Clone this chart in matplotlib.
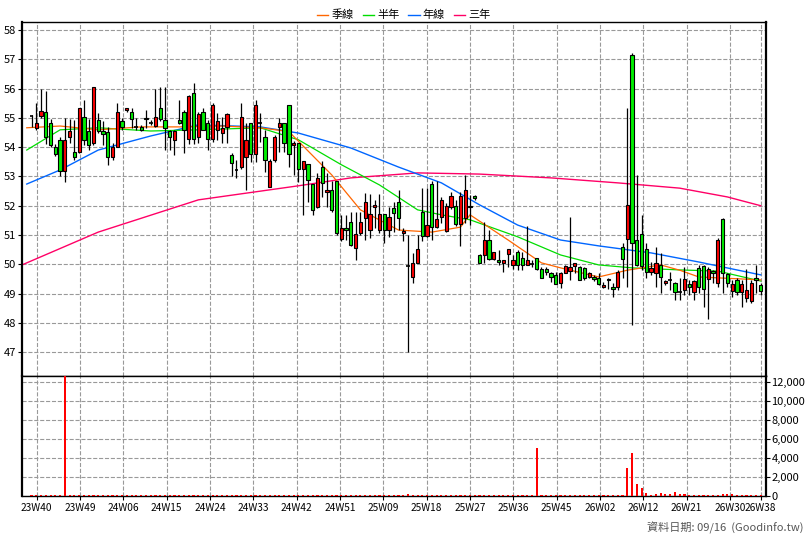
import numpy as np
import matplotlib
matplotlib.use("Agg")
import matplotlib.pyplot as plt
from matplotlib.lines import Line2D
from matplotlib.ticker import FuncFormatter

plt.rcParams['font.family'] = ['Noto Sans CJK TC', 'DejaVu Sans']

# ==========================================
# Weekly OHLC, week index 0..153
# ==========================================
opens = [55.05, 54.66, 55.06, 55.21, 54.81, 54.01, 54.24, 53.20, 54.35, 53.84,
         53.84, 55.02, 54.56, 54.15, 54.92, 54.55, 54.53, 53.67, 54.01, 54.90,
         55.27, 55.21, 54.70, 54.70, 55.00, 54.83, 54.73, 55.32, 54.92, 54.55,
         54.24, 54.92, 55.21, 54.26, 55.84, 54.35, 55.21, 54.81, 54.26, 54.58,
         54.47, 54.67, 53.73, 53.22, 53.33, 53.65, 54.81, 53.76, 54.83, 54.33,
         52.63, 53.56, 54.67, 54.83, 55.44, 54.07, 54.13, 53.25, 53.42, 52.73,
         51.95, 53.31, 52.46, 52.54, 52.83, 50.86, 51.23, 51.44, 50.55, 51.06,
         51.57, 51.17, 51.95, 51.17, 51.71, 51.17, 51.91, 52.12, 51.06, 49.96,
         49.56, 50.06, 51.80, 50.97, 52.73, 51.27, 51.60, 51.15, 51.94, 52.00,
         51.36, 51.57, 52.00, 52.33, 50.32, 50.32, 50.83, 50.17, 50.15, 50.06,
         50.34, 49.99, 50.41, 50.20, 49.99, 50.00, 50.20, 49.83, 49.83, 49.71,
         49.63, 49.37, 49.71, 49.78, 49.94, 49.92, 49.86, 49.58, 49.56, 49.52,
         49.22, 49.50, 49.22, 49.22, 50.60, 50.86, 57.15, 50.83, 51.03, 50.52,
         49.75, 49.69, 49.97, 49.35, 49.45, 49.38, 49.07, 49.13, 49.32, 49.06,
         49.87, 49.95, 49.51, 49.76, 49.35, 51.54, 49.66, 49.10, 49.47, 49.06,
         48.84, 48.74, 49.53, 49.29]
highs = [55.10, 55.50, 56.00, 55.90, 54.95, 54.10, 54.35, 54.98, 54.95, 54.93,
         55.35, 55.60, 54.95, 56.04, 55.15, 54.90, 54.70, 54.15, 55.50, 54.98,
         55.35, 55.32, 54.98, 54.75, 55.25, 54.92, 56.00, 56.06, 56.04, 54.60,
         54.60, 55.60, 55.25, 55.78, 56.18, 55.21, 55.32, 54.92, 55.49, 55.15,
         55.02, 55.15, 53.80, 53.56, 55.49, 54.81, 54.81, 55.61, 55.15, 54.58,
         53.58, 54.41, 54.98, 54.83, 55.44, 54.20, 54.13, 53.51, 53.42, 52.73,
         53.11, 53.51, 53.11, 52.83, 52.83, 51.69, 51.69, 51.80, 51.80, 51.80,
         52.43, 52.40, 52.20, 52.40, 51.71, 51.97, 52.14, 52.54, 51.23, 51.00,
         50.38, 51.00, 52.60, 52.60, 52.83, 52.83, 52.30, 52.10, 52.48, 52.20,
         52.48, 53.05, 52.36, 52.36, 50.35, 51.45, 51.17, 50.43, 50.49, 50.15,
         50.51, 50.32, 50.49, 50.43, 51.31, 50.15, 50.20, 49.92, 49.92, 49.75,
         49.75, 49.75, 49.98, 51.60, 50.03, 49.94, 49.92, 49.75, 49.64, 49.69,
         49.41, 49.55, 49.36, 49.81, 50.72, 55.33, 57.20, 53.05, 51.69, 50.72,
         50.09, 50.60, 50.38, 49.47, 49.75, 49.41, 49.53, 49.92, 49.47, 49.47,
         49.98, 49.98, 49.92, 49.81, 50.89, 51.57, 49.69, 49.47, 49.53, 49.47,
         49.83, 49.47, 49.98, 49.35]
lows = [54.70, 54.60, 55.00, 54.10, 54.00, 53.70, 53.00, 52.82, 54.13, 53.56,
        53.80, 54.07, 53.90, 54.07, 54.47, 54.07, 53.40, 53.56, 54.01, 54.58,
        55.20, 54.64, 54.58, 54.55, 54.64, 54.75, 54.70, 54.90, 53.90, 53.90,
        53.73, 54.80, 53.80, 54.10, 54.10, 54.13, 54.58, 53.90, 54.18, 54.24,
        54.13, 54.13, 53.00, 52.93, 53.27, 52.53, 53.50, 53.50, 54.18, 53.16,
        52.63, 53.50, 53.84, 53.84, 53.31, 53.05, 52.82, 51.69, 52.14, 51.69,
        51.92, 52.31, 51.97, 51.80, 51.00, 50.78, 50.83, 50.61, 50.15, 51.00,
        50.83, 50.89, 51.23, 51.06, 50.72, 50.95, 51.12, 51.17, 50.81, 47.02,
        49.38, 50.04, 50.78, 50.95, 50.83, 51.23, 51.40, 51.10, 51.90, 51.30,
        50.63, 51.40, 51.34, 52.20, 50.03, 50.03, 50.15, 50.15, 49.98, 49.75,
        49.92, 49.83, 49.80, 49.80, 49.98, 49.92, 49.80, 49.52, 49.64, 49.41,
        49.33, 49.18, 49.69, 49.46, 49.69, 49.46, 49.46, 49.52, 49.44, 49.29,
        49.18, 49.15, 48.90, 49.13, 49.53, 49.24, 47.93, 49.93, 49.81, 49.53,
        49.64, 49.24, 49.01, 49.30, 49.13, 48.78, 48.78, 48.96, 48.96, 48.78,
        49.01, 48.56, 48.13, 49.35, 49.22, 49.01, 49.24, 48.90, 48.96, 48.56,
        48.73, 48.67, 49.01, 48.96]
closes = [55.05, 54.81, 55.23, 54.36, 54.07, 53.76, 53.20, 54.24, 54.55, 53.65,
          55.32, 54.24, 54.07, 56.04, 54.56, 54.45, 53.67, 54.01, 55.21, 54.70,
          55.32, 54.95, 54.70, 54.58, 54.95, 54.83, 55.02, 54.95, 54.66, 54.35,
          54.55, 54.83, 54.58, 55.74, 54.26, 55.13, 54.58, 54.26, 55.44, 54.90,
          54.64, 55.13, 53.45, 53.22, 55.02, 54.24, 53.76, 55.44, 54.83, 53.56,
          53.52, 54.33, 54.83, 54.15, 53.76, 54.13, 53.25, 53.51, 52.88, 51.86,
          52.94, 52.77, 52.54, 51.86, 51.06, 51.23, 51.17, 50.66, 51.03, 51.44,
          52.12, 51.71, 52.03, 51.71, 51.17, 51.63, 51.74, 51.57, 51.14, 49.96,
          50.04, 50.52, 50.97, 51.34, 51.27, 51.55, 52.20, 52.00, 52.33, 51.36,
          52.33, 52.54, 51.94, 52.25, 50.06, 50.83, 50.17, 50.41, 50.07, 50.15,
          50.51, 50.15, 49.99, 49.99, 50.15, 50.00, 49.84, 49.55, 49.75, 49.58,
          49.33, 49.71, 49.94, 49.92, 50.03, 49.46, 49.55, 49.71, 49.49, 49.33,
          49.30, 49.45, 49.15, 49.75, 50.17, 52.03, 50.74, 49.98, 49.95, 49.75,
          49.87, 50.03, 49.56, 49.42, 49.45, 49.07, 49.08, 49.51, 49.22, 49.42,
          49.24, 49.16, 49.83, 49.70, 50.83, 49.70, 49.35, 49.32, 49.06, 49.32,
          49.13, 49.38, 49.47, 49.10]
volumes = [60, 60, 60, 60, 60, 70, 60, 12600, 60, 60,
           60, 60, 60, 60, 60, 60, 60, 60, 60, 60,
           60, 60, 60, 60, 60, 60, 60, 60, 60, 60,
           60, 60, 60, 60, 60, 60, 60, 60, 60, 60,
           60, 60, 60, 60, 60, 60, 60, 60, 60, 60,
           60, 60, 60, 60, 60, 60, 60, 60, 60, 60,
           60, 60, 60, 60, 60, 60, 60, 60, 60, 60,
           60, 60, 60, 60, 60, 60, 60, 60, 60, 200,
           60, 60, 60, 60, 60, 60, 60, 60, 60, 60,
           60, 60, 60, 60, 60, 60, 60, 60, 60, 60,
           60, 60, 60, 60, 60, 60, 5100, 60, 60, 60,
           60, 60, 60, 60, 60, 60, 60, 60, 60, 60,
           60, 60, 60, 60, 60, 2900, 4500, 1300, 850, 300,
           100, 200, 300, 200, 250, 400, 200, 200, 80, 80,
           80, 60, 60, 60, 60, 200, 200, 200, 80, 80,
           80, 60, 60, 60]

# moving averages at sample weeks
ma13_x = [-1, 6, 14, 23, 31, 40, 48, 54, 63, 69, 77, 84, 90, 92, 100, 107, 111, 119, 125, 132, 136, 140, 153]
ma13_y = [54.66, 54.72, 54.59, 54.69, 54.69, 54.72, 54.66, 54.53, 53.05, 51.86, 51.17, 51.10, 51.27, 51.69,
          50.83, 50.05, 49.88, 49.57, 49.80, 49.98, 49.80, 49.57, 49.47]
ma26_x = [-1, 6, 14, 25, 35, 48, 56, 65, 73, 81, 86, 92, 102, 111, 119, 126, 136, 144, 153]
ma26_y = [53.90, 54.59, 54.66, 54.55, 54.59, 54.66, 54.25, 53.40, 52.71, 51.86, 51.69, 51.52, 50.94,
          50.32, 49.98, 49.88, 49.81, 49.77, 49.43]
ma52_x = [-1, 6, 14, 25, 35, 48, 56, 67, 77, 86, 94, 102, 111, 119, 130, 140, 153]
ma52_y = [52.74, 53.22, 53.90, 54.38, 54.76, 54.69, 54.48, 53.97, 53.32, 52.78, 52.03, 51.34, 50.83,
          50.63, 50.39, 50.08, 49.64]
ma156_x = [-2, 14, 35, 56, 67, 81, 94, 109, 123, 136, 146, 153]
ma156_y = [49.98, 51.10, 52.20, 52.68, 52.95, 53.12, 53.08, 52.95, 52.78, 52.60, 52.30, 52.00]

week_labels = ['23W40', '23W49', '24W06', '24W15', '24W24', '24W33', '24W42', '24W51', '25W09',
               '25W18', '25W27', '25W36', '25W45', '26W02', '26W12', '26W21', '26W30', '26W38']

# ==========================================
# Figure
# ==========================================
fig = plt.figure(figsize=(8.08, 5.40), dpi=100)
ax = fig.add_axes([0.0272, 0.3037, 0.9208, 0.6556])
axv = fig.add_axes([0.0272, 0.0815, 0.9208, 0.2222], sharex=ax)

x = np.arange(len(opens))
o = np.array(opens); c = np.array(closes)
up = c >= o
body_lo = np.minimum(o, c)
body_h = np.abs(c - o)

ax.vlines(x, lows, highs, color='black', linewidth=0.9, zorder=2)
colors = np.where(up, '#ff0000', '#00ee00')
big = body_h >= 0.03
ax.bar(x[big], body_h[big], bottom=body_lo[big], width=0.68, color=colors[big],
       edgecolor='black', linewidth=0.8, zorder=3)
ax.hlines(o[~big], x[~big] - 0.4, x[~big] + 0.4, color='black', linewidth=1.2, zorder=3)

ax.plot(ma156_x, ma156_y, color='#ff0066', linewidth=1.0, zorder=1)
ax.plot(ma52_x, ma52_y, color='#0066ff', linewidth=1.0, zorder=1)
ax.plot(ma26_x, ma26_y, color='#00dd00', linewidth=0.9, zorder=1)
ax.plot(ma13_x, ma13_y, color='#ff6600', linewidth=0.9, zorder=1)

ax.set_ylim(46.19, 58.27)
ax.set_xlim(-2.0, 154.1)
ax.set_yticks(range(47, 59))
ax.tick_params(axis='y', labelsize=8, length=3, pad=1)
ax.tick_params(axis='x', bottom=False, labelbottom=False)
ax.grid(True, linestyle='--', color='#999999', linewidth=0.8)

axv.bar(x, volumes, width=0.45, color='#ff0000', zorder=3)
axv.set_ylim(0, 12643)
axv.set_yticks(range(0, 12001, 2000))
axv.yaxis.tick_right()
axv.yaxis.set_major_formatter(FuncFormatter(lambda v, p: f"{int(v):,}"))
axv.tick_params(axis='y', labelsize=8, length=3, pad=1)
axv.grid(True, linestyle='--', color='#999999', linewidth=0.8)

label_pos = [1.1 + 9.09 * k for k in range(17)] + [153.0]
ax.set_xticks(label_pos)
axv.set_xticks(label_pos)
axv.set_xticklabels(week_labels, fontsize=7.3)
axv.tick_params(axis='x', length=3, pad=2)

for a in (ax, axv):
    for s in a.spines.values():
        s.set_linewidth(1.0)
    a.spines['left'].set_linewidth(1.6)
    a.spines['right'].set_linewidth(1.6)
    a.set_axisbelow(True)

handles = [Line2D([], [], color='#ff6600', lw=1),
           Line2D([], [], color='#00dd00', lw=1),
           Line2D([], [], color='#0066ff', lw=1),
           Line2D([], [], color='#ff0066', lw=1)]
fig.legend(handles, ['季線', '半年', '年線', '三年'], loc='center', bbox_to_anchor=(0.5, 0.972),
           ncol=4, frameon=False, fontsize=8, handlelength=1.0, handletextpad=0.3, columnspacing=0.8)
fig.text(0.995, 0.012, '資料日期: 09/16  (Goodinfo.tw)', ha='right', va='bottom', fontsize=8, color='#555555')

fig.savefig('out.png', dpi=100)
